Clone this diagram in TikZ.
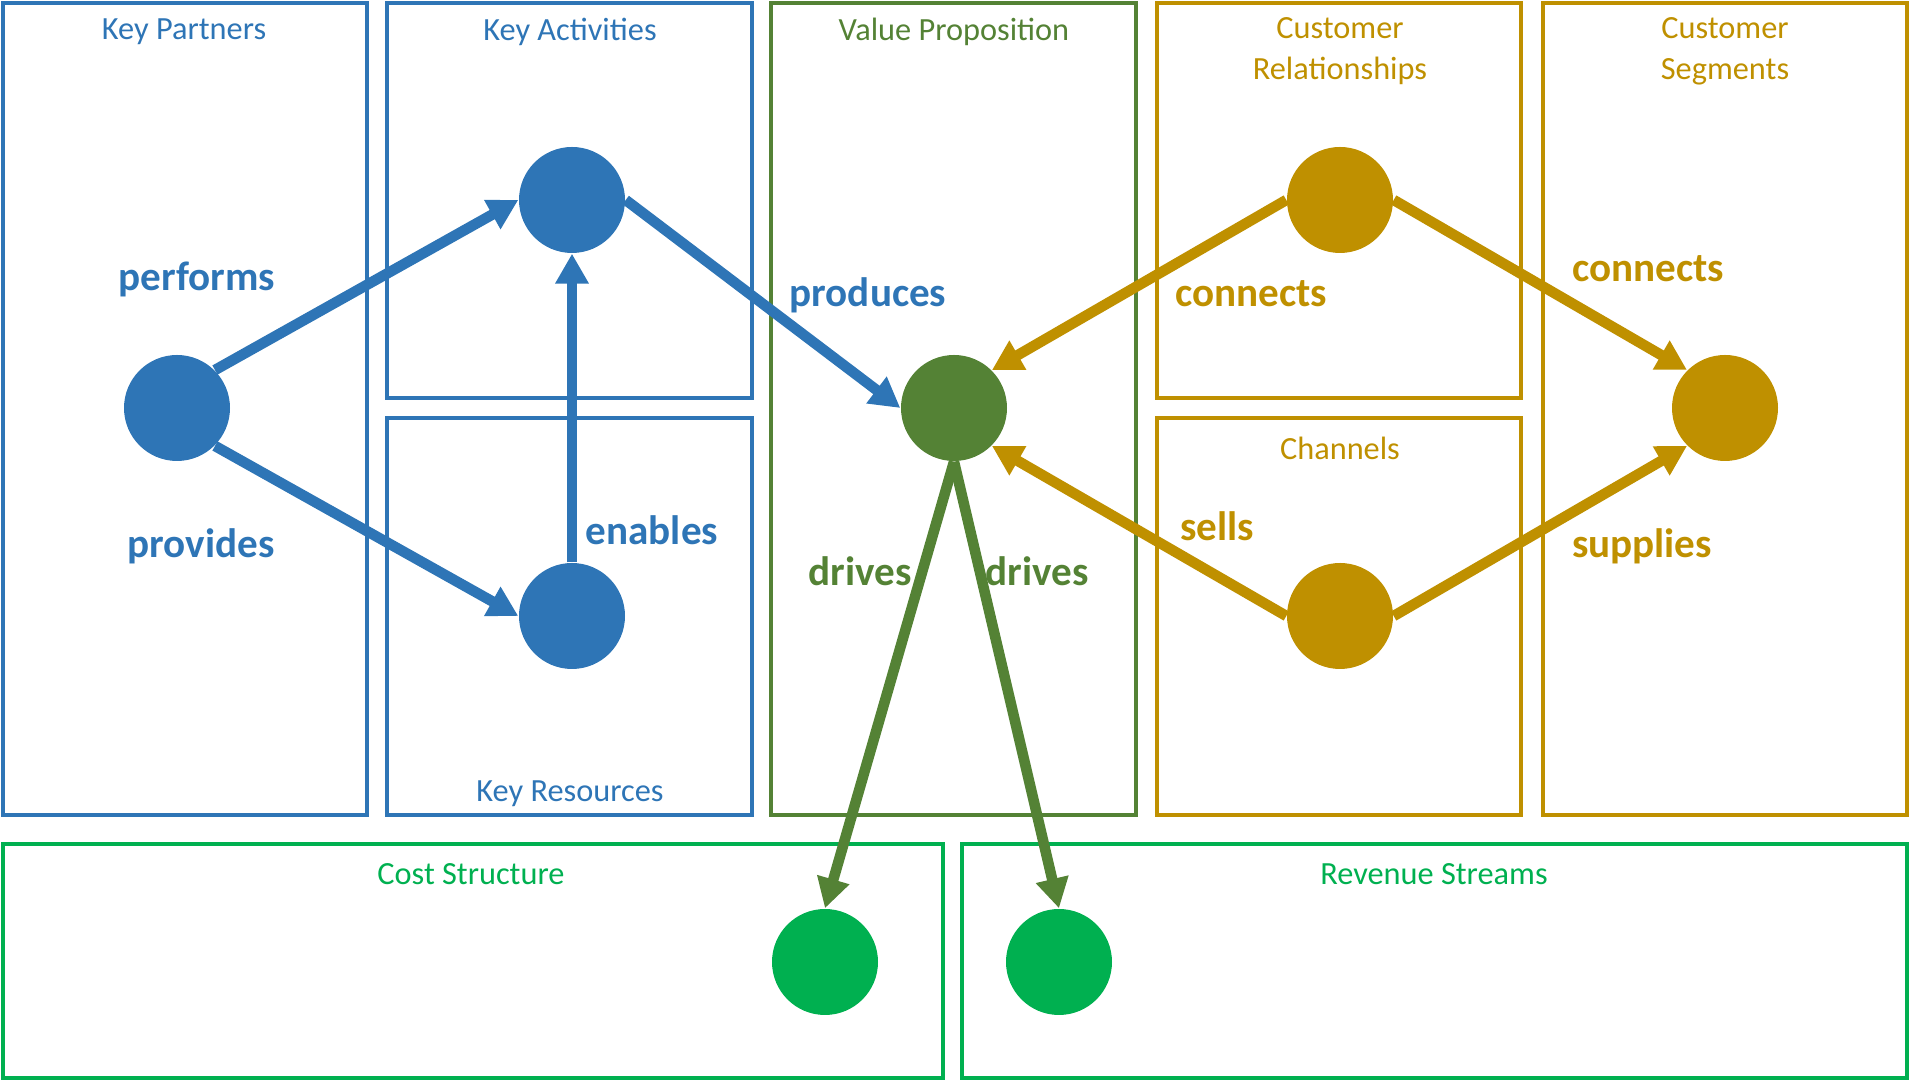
\documentclass[tikz,border=0pt]{standalone}
\usepackage{fontspec}
\setmainfont{Carlito}
\usepackage{tikz}
\usepackage{xcolor}
\usetikzlibrary{arrows.meta,positioning}
\definecolor{canvasblue}{HTML}{2E75B6}
\definecolor{canvasgreen}{HTML}{548235}
\definecolor{canvasgold}{HTML}{BF9000}
\definecolor{canvasmoney}{HTML}{00B050}
\tikzset{%
	block/.style    = {draw, line width=0.9pt},
	title/.style    = {font=\fontsize{9.2}{11.6}\selectfont, align=center, inner sep=0pt},
	dot/.style      = {circle, minimum size=1.06cm, inner sep=0pt},
	verb/.style     = {font=\fontsize{11.7}{14}\selectfont\bfseries, inner sep=0pt},
	link/.style     = {line width=3pt, -{Triangle[length=8.5pt,width=9pt]}},
}

\begin{document}
\begin{tikzpicture}
	\useasboundingbox (0,0) rectangle (19.10,-10.81);
	% canvas blocks
	\draw[block,canvasblue] (0.03,-0.03) rectangle (3.67,-8.15);
	\draw[block,canvasblue] (3.87,-0.03) rectangle (7.52,-3.98);
	\draw[block,canvasblue] (3.87,-4.18) rectangle (7.52,-8.15);
	\draw[block,canvasgreen] (7.71,-0.03) rectangle (11.36,-8.15);
	\draw[block,canvasgold] (11.57,-0.03) rectangle (15.21,-3.98);
	\draw[block,canvasgold] (11.57,-4.18) rectangle (15.21,-8.15);
	\draw[block,canvasgold] (15.43,-0.03) rectangle (19.07,-8.15);
	\draw[block,canvasmoney] (0.03,-8.44) rectangle (9.43,-10.78);
	\draw[block,canvasmoney] (9.62,-8.44) rectangle (19.07,-10.78);
	% block titles
	\node[title,text=canvasblue] (kptitle) at (1.84,-0.32) {Key Partners};
	\node[title,text=canvasblue] (katitle) at (5.70,-0.32) {Key Activities};
	\node[title,text=canvasblue] (krtitle) at (5.70,-7.94) {Key Resources};
	\node[title,text=canvasgreen] (vptitle) at (9.54,-0.32) {Value Proposition};
	\node[title,text=canvasgold] (crtitle) at (13.40,-0.51) {Customer\\Relationships};
	\node[title,text=canvasgold] (chtitle) at (13.40,-4.48) {Channels};
	\node[title,text=canvasgold] (cstitle) at (17.25,-0.51) {Customer\\Segments};
	\node[title,text=canvasmoney] (costtitle) at (4.71,-8.74) {Cost Structure};
	\node[title,text=canvasmoney] (revtitle) at (14.34,-8.74) {Revenue Streams};
	% dots
	\node[dot,fill=canvasblue] (kp) at (1.77,-4.08) {};
	\node[dot,fill=canvasblue] (ka) at (5.72,-2.00) {};
	\node[dot,fill=canvasblue] (kr) at (5.72,-6.16) {};
	\node[dot,fill=canvasgreen] (vp) at (9.54,-4.08) {};
	\node[dot,fill=canvasgold] (cr) at (13.40,-2.00) {};
	\node[dot,fill=canvasgold] (ch) at (13.40,-6.16) {};
	\node[dot,fill=canvasgold] (cs) at (17.25,-4.08) {};
	\node[dot,fill=canvasmoney] (cost) at (8.25,-9.62) {};
	\node[dot,fill=canvasmoney] (rev) at (10.59,-9.62) {};
	% links
	\draw[link,canvasblue] (kp.north east) -- (ka.west);
	\draw[link,canvasblue] (kp.south east) -- (kr.west);
	\draw[link,canvasblue] (kr.north) -- (ka.south);
	\draw[link,canvasblue] (ka.east) -- (vp.west);
	\draw[link,canvasgold] (cr.west) -- (vp.north east);
	\draw[link,canvasgold] (ch.west) -- (vp.south east);
	\draw[link,canvasgold] (cr.east) -- (cs.north west);
	\draw[link,canvasgold] (ch.east) -- (cs.south west);
	\draw[link,canvasgreen] (vp.south) -- (cost.north);
	\draw[link,canvasgreen] (vp.south) -- (rev.north);
	% link labels
	\node[verb,text=canvasblue] (performs) at (1.97,-2.79) {performs};
	\node[verb,text=canvasblue] (provides) at (2.01,-5.46) {provides};
	\node[verb,text=canvasblue] (enables) at (6.52,-5.30) {enables};
	\node[verb,text=canvasblue] (produces) at (8.68,-2.95) {produces};
	\node[verb,text=canvasgold] (connects1) at (12.51,-2.94) {connects};
	\node[verb,text=canvasgold] (connects2) at (16.48,-2.69) {connects};
	\node[verb,text=canvasgold] (sells) at (12.17,-5.26) {sells};
	\node[verb,text=canvasgold] (supplies) at (16.42,-5.46) {supplies};
	\node[verb,text=canvasgreen] (drives1) at (8.60,-5.71) {drives};
	\node[verb,text=canvasgreen] (drives2) at (10.37,-5.71) {drives};
\end{tikzpicture}
\end{document}
